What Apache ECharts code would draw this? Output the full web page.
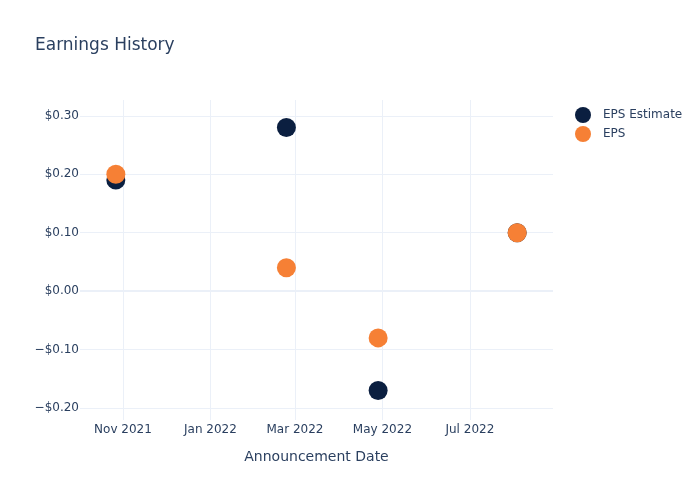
<!DOCTYPE html>
<html><head><meta charset="utf-8">
<script src="https://cdn.jsdelivr.net/npm/echarts@6/dist/echarts.min.js"></script>
<style>html,body{margin:0;padding:0;background:#fff}#c{width:700px;height:500px}</style>
</head><body><div id="c"></div>
<script>
const dates = ['2021-10-27', '2022-02-23', '2022-04-28', '2022-08-03'];
const epsEstimate = [0.19, 0.28, -0.17, 0.10];
const eps = [0.20, 0.04, -0.08, 0.10];
const xTicks = ['2021-11-01', '2022-01-01', '2022-03-01', '2022-05-01', '2022-07-01'];
const yTicks = [-0.2, -0.1, 0, 0.1, 0.2, 0.3];
const months = ['Jan','Feb','Mar','Apr','May','Jun','Jul','Aug','Sep','Oct','Nov','Dec'];
const FONT = 'DejaVu Sans';
const TXT = '#2a3f5f';
const t = s => new Date(s + 'T00:00:00Z').getTime();
const chart = echarts.init(document.getElementById('c'), null, {renderer: 'canvas'});
chart.setOption({
  animation: false,
  backgroundColor: '#fff',
  textStyle: {fontFamily: FONT},
  title: {text: 'Earnings History', left: 30, top: 32, textStyle: {fontFamily: FONT, fontSize: 17, fontWeight: 'normal', color: TXT}},
  legend: {orient: 'vertical', left: 570, top: 102, itemGap: 3, itemWidth: 30, itemHeight: 16,
    textStyle: {fontFamily: FONT, fontSize: 12, color: TXT},
    data: [{name: 'EPS Estimate', icon: 'circle'}, {name: 'EPS', icon: 'circle'}]},
  grid: {left: 80, right: 147, top: 100, bottom: 80},
  xAxis: {type: 'value', min: t('2021-10-02'), max: t('2022-08-28'),
    name: 'Announcement Date', nameLocation: 'middle', nameGap: 30,
    nameTextStyle: {fontFamily: FONT, fontSize: 14, color: TXT},
    axisLine: {show: false},
    axisTick: {show: false, customValues: xTicks.map(t)},
    axisLabel: {customValues: xTicks.map(t), fontFamily: FONT, fontSize: 12, color: TXT, margin: 4,
      formatter: v => { const d = new Date(v); return months[d.getUTCMonth()] + ' ' + d.getUTCFullYear(); }},
    splitLine: {show: true, lineStyle: {color: '#ebf0f8', width: 1}}
  },
  yAxis: {type: 'value', min: -0.2205, max: 0.327,
    axisLine: {show: false}, axisTick: {show: false, customValues: yTicks},
    axisLabel: {customValues: yTicks, fontFamily: FONT, fontSize: 12, color: TXT, margin: 1,
      formatter: v => (v < -1e-9 ? '\u2212$' : '$') + Math.abs(v).toFixed(2)},
    splitLine: {show: true, lineStyle: {color: '#ebf0f8', width: 1}}
  },
  series: [
    {name: 'EPS Estimate', type: 'scatter', symbolSize: 19, itemStyle: {color: '#0b1f40', opacity: 1},
      data: dates.map((d, i) => [t(d), epsEstimate[i]]),
      markLine: {silent: true, symbol: 'none', label: {show: false}, lineStyle: {color: '#ebf0f8', width: 2, type: 'solid'}, data: [{yAxis: 0}], z: 1}},
    {name: 'EPS', type: 'scatter', symbolSize: 19, itemStyle: {color: '#f68035', opacity: 1},
      data: dates.map((d, i) => [t(d), eps[i]])}
  ]
});
</script></body></html>
